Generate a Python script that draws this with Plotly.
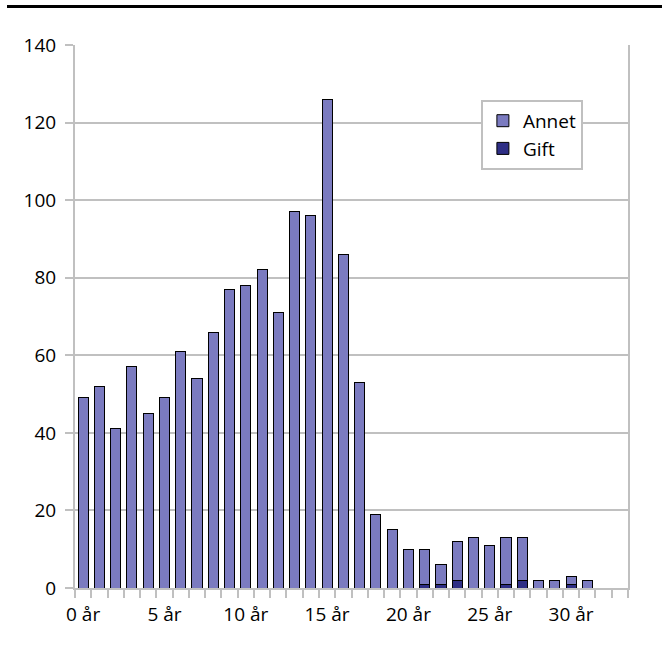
import plotly.graph_objects as go

categories = [f"{i} år" for i in range(34)]
totals = [49, 52, 41, 57, 45, 49, 61, 54, 66, 77, 78, 82, 71, 97, 96, 126, 86, 53,
          19, 15, 10, 10, 6, 12, 13, 11, 13, 13, 2, 2, 3, 2, 0, 0]
gift = [0, 0, 0, 0, 0, 0, 0, 0, 0, 0, 0, 0, 0, 0, 0, 0, 0, 0,
        0, 0, 0, 1, 1, 2, 0, 0, 1, 2, 0, 0, 1, 0, 0, 0]
annet = [t - g for t, g in zip(totals, gift)]
label_every = 5

xs = list(range(len(categories)))
tickvals = xs[::label_every][:7]
ticktext = [categories[i] for i in tickvals]

fig = go.Figure()
fig.add_trace(go.Bar(x=xs, y=[g if g else None for g in gift], name="Gift",
                     marker=dict(color="#2E2E85", line=dict(color="#000000", width=1))))
fig.add_trace(go.Bar(x=xs, y=[a if a else None for a in annet], name="Annet",
                     marker=dict(color="#7B7BC0", line=dict(color="#000000", width=1))))

font = "Open Sans, Noto Sans, sans-serif"
fig.update_layout(
    width=662, height=647,
    margin=dict(l=75, r=34, t=45, b=59),
    barmode="stack", bargap=0.38,
    paper_bgcolor="white", plot_bgcolor="white",
    font=dict(family=font, size=19, color="#000000"),
    showlegend=True,
    legend=dict(x=0.734, y=0.899, xanchor="left", yanchor="top",
                traceorder="reversed", bgcolor="white",
                bordercolor="#c0c0c0", borderwidth=2,
                font=dict(family=font, size=19), itemwidth=30,
                tracegroupgap=0),
    xaxis=dict(range=[-0.5, len(categories) - 0.5], tickmode="array",
               tickvals=tickvals, ticktext=ticktext, ticks="outside",
               ticklen=8, tickcolor="rgba(0,0,0,0)", showgrid=False,
               showline=True, linecolor="#c0c0c0", linewidth=2,
               minor=dict(ticks="outside", tick0=-0.5, dtick=1, ticklen=8,
                          tickcolor="#c0c0c0", tickwidth=2, showgrid=False),
               tickfont=dict(size=19), zeroline=False, fixedrange=True),
    yaxis=dict(range=[0, 140], dtick=20, ticks="outside", ticklen=8,
               tickcolor="#c0c0c0", tickwidth=2, showgrid=True,
               gridcolor="#c0c0c0", gridwidth=2, showline=True,
               linecolor="#c0c0c0", linewidth=2, mirror=True,
               ticklabelstandoff=5,
               zeroline=False, tickfont=dict(size=19), fixedrange=True),
    shapes=[dict(type="line", xref="paper", yref="paper",
                 x0=(7 - 75) / 553, x1=(662 - 75) / 553,
                 y0=(588 - 6.5) / 543, y1=(588 - 6.5) / 543,
                 line=dict(color="black", width=3))],
)

fig.write_html("out.html", config={"displayModeBar": False},
               post_script="document.body.style.margin='0';document.body.style.overflow='hidden';")
